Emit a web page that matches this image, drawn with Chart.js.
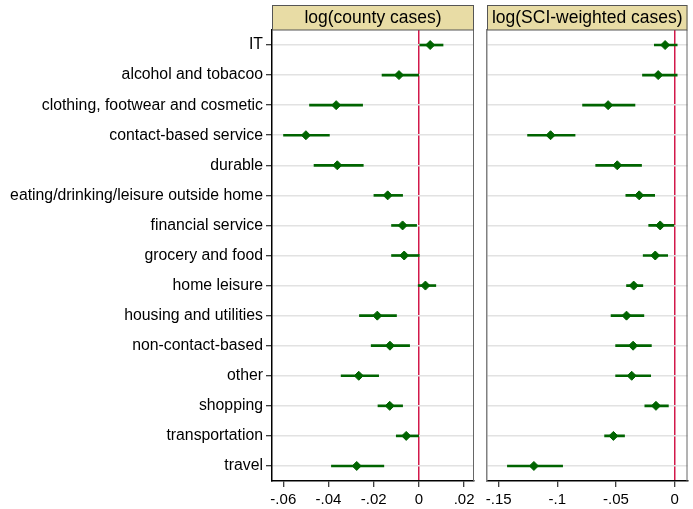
<!DOCTYPE html>
<html>
<head>
<meta charset="utf-8">
<script src="https://cdn.jsdelivr.net/npm/chart.js@4"></script>
<style>
  body { margin: 0; background: #fff; }
  #wrap { position: relative; width: 693px; height: 509px; }
  canvas { position: absolute; top: 0; }
</style>
</head>
<body>
<div id="wrap">
  <canvas id="county" width="480" height="509" style="left:0"></canvas>
  <canvas id="sci" width="213" height="509" style="left:480px"></canvas>
</div>
<script>
var categories = ["IT", "alcohol and tobacoo", "clothing, footwear and cosmetic", "contact-based service",
    "durable", "eating/drinking/leisure outside home", "financial service", "grocery and food",
    "home leisure", "housing and utilities", "non-contact-based", "other", "shopping",
    "transportation", "travel"];

// log(county cases): coefficient and 95% CI
var countyEst  = [0.0050, -0.0088, -0.0366, -0.0500, -0.0361, -0.0138, -0.0072, -0.0065, 0.0029, -0.0184, -0.0128, -0.0266, -0.0129, -0.0056, -0.0275];
var countyLow  = [0.0004, -0.0163, -0.0484, -0.0599, -0.0464, -0.0199, -0.0121, -0.0121, -0.0003, -0.0263, -0.0211, -0.0344, -0.0181, -0.0100, -0.0387];
var countyHigh = [0.0107, -0.0001, -0.0249, -0.0396, -0.0246, -0.0072, -0.0010, 0.0002, 0.0075, -0.0099, -0.0041, -0.0178, -0.0072, -0.0001, -0.0155];

// log(SCI-weighted cases): coefficient and 95% CI
var sciEst  = [-0.0081, -0.0140, -0.0567, -0.1058, -0.0489, -0.0302, -0.0123, -0.0165, -0.0349, -0.0410, -0.0354, -0.0366, -0.0159, -0.0522, -0.1200];
var sciLow  = [-0.0173, -0.0274, -0.0785, -0.1254, -0.0673, -0.0416, -0.0221, -0.0268, -0.0410, -0.0542, -0.0503, -0.0503, -0.0254, -0.0597, -0.1426];
var sciHigh = [0.0022, 0.0022, -0.0338, -0.0849, -0.0282, -0.0170, -0.0006, -0.0059, -0.0271, -0.0262, -0.0198, -0.0204, -0.0053, -0.0427, -0.0955];

var countyTicks = [-0.06, -0.04, -0.02, 0, 0.02];
var sciTicks = [-0.15, -0.1, -0.05, 0];

var FONT = "'Liberation Sans', Arial, Helvetica, sans-serif";
var GREEN = "#006400";
var ZERO_RED = "#d2184a";

// beige title strip above each plot region + the grey right edge
var panelHeader = {
    id: "panelHeader",
    afterDraw: function(chart, args, opts) {
        var a = chart.chartArea;
        var ctx = chart.ctx;
        ctx.save();
        ctx.strokeStyle = "#666";
        ctx.lineWidth = 1;
        ctx.beginPath();
        ctx.moveTo(a.right - 0.5, a.top);
        ctx.lineTo(a.right - 0.5, a.bottom);
        ctx.stroke();

        ctx.fillStyle = "#e8dca5";
        ctx.fillRect(a.left, 5, a.right - a.left, a.top - 5);
        ctx.strokeStyle = "#555";
        ctx.strokeRect(a.left + 0.5, 5.5, a.right - a.left - 1, a.top - 5.5);

        ctx.fillStyle = "#000";
        ctx.font = "17.5px " + FONT;
        ctx.textAlign = "center";
        ctx.textBaseline = "middle";
        ctx.fillText(opts.text, (a.left + a.right) / 2, (5 + a.top) / 2 + 1);
        ctx.restore();
    }
};

function fmtTick(v) {
    if (v === 0) return "0";
    return String(v).replace("0.", ".");
}

function makePanel(id, est, low, high, ticks, min, max, title, o) {
    var ctx = document.getElementById(id).getContext("2d");
    var ci = low.map(function(l, i) { return [l, high[i]]; });

    return new Chart(ctx, {
        type: "bar",
        data: {
            labels: categories,
            datasets: [{
                type: "line",
                indexAxis: "y",
                data: est,
                showLine: false,
                pointStyle: "rectRot",
                pointRadius: 4.5,
                pointBorderWidth: 1,
                pointBackgroundColor: GREEN,
                pointBorderColor: GREEN,
                order: 0
            }, {
                type: "bar",
                indexAxis: "y",
                data: ci,
                backgroundColor: GREEN,
                borderWidth: 0,
                barThickness: 2,
                order: 1
            }]
        },
        options: {
            indexAxis: "y",
            responsive: false,
            animation: false,
            layout: { padding: { top: 30, right: o.padRight, left: 0, bottom: 0 } },
            plugins: {
                legend: { display: false },
                tooltip: { enabled: false },
                panelHeader: { text: title }
            },
            scales: {
                x: {
                    type: "linear",
                    position: "bottom",
                    min: min,
                    max: max,
                    afterBuildTicks: function(s) {
                        s.ticks = ticks.map(function(v) { return { value: v }; });
                    },
                    afterFit: function(s) { s.height = 28; },
                    ticks: {
                        autoSkip: false,
                        maxRotation: 0,
                        padding: 3.5,
                        color: "#000",
                        font: { family: FONT, size: 15 },
                        callback: function(v) { return fmtTick(v); }
                    },
                    grid: {
                        color: function(c) {
                            return c.tick && c.tick.value === 0 ? ZERO_RED : "rgba(0,0,0,0)";
                        },
                        lineWidth: 1.5,
                        tickColor: "#000",
                        tickWidth: 1,
                        tickLength: 6
                    },
                    border: { color: "#000", width: 1.5 }
                },
                y: {
                    type: "category",
                    offset: true,
                    afterFit: function(s) { s.width = o.leftWidth; },
                    ticks: {
                        display: o.showLabels,
                        padding: 3,
                        color: "#000",
                        font: { family: FONT, size: 15.8 }
                    },
                    grid: {
                        offset: false,
                        color: "#e2e2e2",
                        lineWidth: 1.5,
                        drawTicks: o.showLabels,
                        tickColor: "#000",
                        tickWidth: 1,
                        tickLength: 6
                    },
                    border: { color: o.leftBorder, width: 1.5 }
                }
            }
        },
        plugins: [panelHeader]
    });
}

makePanel("county", countyEst, countyLow, countyHigh, countyTicks, -0.065, 0.0244,
    "log(county cases)", { leftWidth: 272, padRight: 6, showLabels: true, leftBorder: "#000" });

makePanel("sci", sciEst, sciLow, sciHigh, sciTicks, -0.16, 0.011,
    "log(SCI-weighted cases)", { leftWidth: 7, padRight: 2, showLabels: false, leftBorder: "#808080" });
</script>
</body>
</html>
